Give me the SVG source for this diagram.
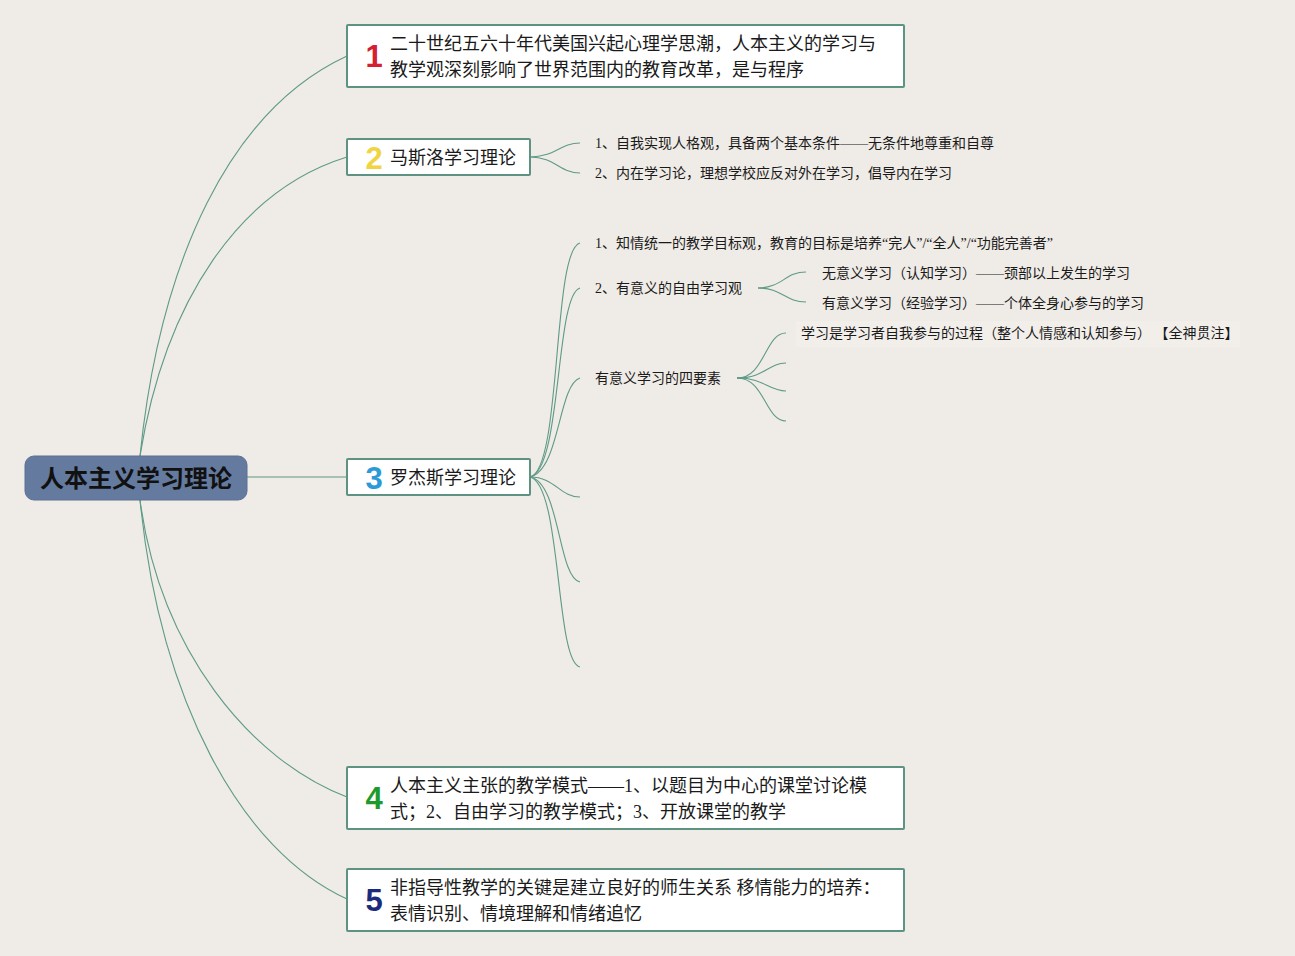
<svg xmlns="http://www.w3.org/2000/svg" width="1295" height="956" viewBox="0 0 1295 956">
<style>
.bg{fill:#efebe6}
.root{fill:#647a9e;stroke:#5c7194;stroke-width:1}
.roott{font-family:"Liberation Sans","Noto Sans CJK SC",sans-serif;font-size:24px;font-weight:bold;fill:#111}
.box{fill:#ffffff;stroke:#5e9282;stroke-width:2}
.t18{font-family:"Liberation Serif","Noto Sans CJK SC",sans-serif;font-size:18px;fill:#1a1a1a}
.t14{font-family:"Liberation Serif","Noto Sans CJK SC",sans-serif;font-size:14px;fill:#1a1a1a}
.num{font-family:"Liberation Sans","Noto Sans",sans-serif;font-size:31px;font-weight:bold;text-anchor:middle}
.ln{fill:none;stroke:#5e9a88;stroke-width:1.1}
.hl{fill:#f2efeb}
</style>
<rect class="bg" x="0" y="0" width="1295" height="956"/>
<g id="connectors">
<path class="ln" d="M140,456 C160,260 230,110 347,56"/>
<path class="ln" d="M140,456 C165,300 240,190 347,157"/>
<path class="ln" d="M247,477 L347,477"/>
<path class="ln" d="M140,500 C160,650 250,760 347,797"/>
<path class="ln" d="M140,500 C160,700 240,850 347,899"/>
<path class="ln" d="M530,157 C555,157 560,143 580,143"/>
<path class="ln" d="M530,157 C555,157 560,173 580,173"/>
<path class="ln" d="M530,477 C562,470 552,250 580,243"/>
<path class="ln" d="M530,477 C562,470 555,295 580,288"/>
<path class="ln" d="M530,477 C560,470 558,385 580,378"/>
<path class="ln" d="M530,477 C555,477 560,497 580,497"/>
<path class="ln" d="M530,477 C560,482 558,578 580,582"/>
<path class="ln" d="M530,477 C562,485 555,662 580,667"/>
<path class="ln" d="M758,288 C782,288 785,272 806,272"/>
<path class="ln" d="M758,288 C782,288 785,302 806,302"/>
<path class="ln" d="M737,378 C765,378 765,333 786,333"/>
<path class="ln" d="M737,378 C765,378 768,363 786,363"/>
<path class="ln" d="M737,378 C765,378 768,391 786,391"/>
<path class="ln" d="M737,378 C765,378 765,421 786,421"/>
</g>
<g id="root">
<rect class="root" x="25" y="456" width="222" height="44" rx="9"/>
<text class="roott" x="136" y="487" text-anchor="middle">人本主义学习理论</text>
</g>
<g id="node1">
<rect class="box" x="347" y="25" width="557" height="62" rx="1"/>
<text class="num" x="374" y="67" fill="#d42030">1</text>
<text class="t18" x="390" y="50">二十世纪五六十年代美国兴起心理学思潮，人本主义的学习与</text>
<text class="t18" x="390" y="76">教学观深刻影响了世界范围内的教育改革，是与程序</text>
</g>
<g id="node2">
<rect class="box" x="347" y="139" width="183" height="36" rx="1"/>
<text class="num" x="374" y="169" fill="#f0d444">2</text>
<text class="t18" x="390" y="164">马斯洛学习理论</text>
</g>
<g id="node2-1">
<text class="t14" x="595" y="148">1、自我实现人格观，具备两个基本条件——无条件地尊重和自尊</text>
</g>
<g id="node2-2">
<text class="t14" x="595" y="178">2、内在学习论，理想学校应反对外在学习，倡导内在学习</text>
</g>
<g id="node3">
<rect class="box" x="347" y="459" width="183" height="36" rx="1"/>
<text class="num" x="374" y="489" fill="#2b9ad8">3</text>
<text class="t18" x="390" y="484">罗杰斯学习理论</text>
</g>
<g id="node3-1">
<text class="t14" x="595" y="248">1、知情统一的教学目标观，教育的目标是培养“完人”/“全人”/“功能完善者”</text>
</g>
<g id="node3-2">
<text class="t14" x="595" y="293">2、有意义的自由学习观</text>
</g>
<g id="node3-2-1">
<text class="t14" x="822" y="278">无意义学习（认知学习）——颈部以上发生的学习</text>
</g>
<g id="node3-2-2">
<text class="t14" x="822" y="308">有意义学习（经验学习）——个体全身心参与的学习</text>
</g>
<g id="node3-3">
<text class="t14" x="595" y="383">有意义学习的四要素</text>
</g>
<g id="node3-3-1">
<rect class="hl" x="796" y="321" width="444" height="26"/>
<text class="t14" x="801" y="338" xml:space="preserve">学习是学习者自我参与的过程（整个人情感和认知参与） 【全神贯注】</text>
</g>
<g id="node4">
<rect class="box" x="347" y="767" width="557" height="62" rx="1"/>
<text class="num" x="374" y="809" fill="#1e9a2c">4</text>
<text class="t18" x="390" y="792">人本主义主张的教学模式——1、以题目为中心的课堂讨论模</text>
<text class="t18" x="390" y="818">式；2、自由学习的教学模式；3、开放课堂的教学</text>
</g>
<g id="node5">
<rect class="box" x="347" y="869" width="557" height="62" rx="1"/>
<text class="num" x="374" y="911" fill="#1c2a7c">5</text>
<text class="t18" x="390" y="894">非指导性教学的关键是建立良好的师生关系 移情能力的培养：</text>
<text class="t18" x="390" y="920">表情识别、情境理解和情绪追忆</text>
</g>
</svg>
